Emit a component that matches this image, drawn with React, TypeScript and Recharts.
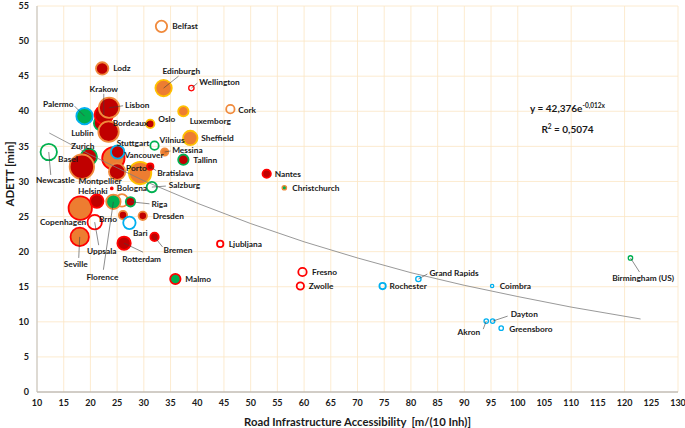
import React from 'react';
import { ScatterChart, Scatter, XAxis, YAxis, ZAxis, CartesianGrid } from 'recharts';

// cities in drawing order (later ones sit on top)
const cities = [
  'Belfast', 'Lodz', 'Edinburgh', 'Wellington', 'Cork', 'Luxemborg', 'Palermo', 'Bordeaux',
  'Krakow', 'Lisbon', 'Lublin', 'Oslo', 'Sheffield', 'Vilnius', 'Vancouver', 'Stuttgart',
  'Messina', 'Tallinn', 'Newcastle', 'Zurich', 'Basel', 'Montpellier', 'Porto', 'Bratislava',
  'Salzburg', 'Bologna', 'Copenhagen', 'Helsinki', 'Brno', 'Florence', 'Riga', '',
  'Dresden', 'Uppsala', 'Bari', 'Seville', 'Rotterdam', 'Bremen', 'Malmo', 'Ljubljana',
  'Nantes', 'Christchurch', 'Fresno', 'Zwolle', 'Rochester', 'Grand Rapids', 'Coimbra',
  'Akron', 'Dayton', 'Greensboro', 'Birmingham (US)',
];
// Road Infrastructure Accessibility [m/(10 Inh)]
const roadAccess = [
  33.3, 22.2, 33.7, 38.9, 46.2, 37.4, 18.9, 22.0,
  22.5, 23.5, 23.4, 31.2, 38.7, 32.0, 24.3, 25.1,
  33.9, 37.4, 12.2, 19.7, 18.4, 25.0, 29.3, 31.2,
  31.5, 24.0, 18.1, 21.2, 25.9, 24.3, 27.5, 26.1,
  29.8, 20.8, 27.3, 18.0, 26.3, 32.0, 35.9, 44.3,
  53.0, 56.3, 59.7, 59.3, 74.7, 81.4, 95.2,
  94.1, 95.3, 96.9, 121.1,
];
// ADETT [min]
const adett = [
  52.1, 46.1, 43.3, 43.3, 40.3, 40.0, 39.3, 38.3,
  39.5, 40.5, 37.1, 38.2, 36.2, 35.1, 33.3, 34.2,
  34.2, 33.1, 34.2, 33.5, 32.1, 31.4, 31.2, 32.1,
  29.2, 29.0, 26.2, 27.2, 27.3, 27.1, 27.1, 25.2,
  25.1, 24.2, 24.1, 22.1, 21.2, 22.1, 16.1, 21.1,
  31.1, 29.1, 17.1, 15.1, 15.1, 16.1, 15.1,
  10.1, 10.1, 9.1, 19.1,
];
// bubble size
const bubbleSize = [
  42, 49, 81, 12, 25, 36, 81, 64,
  100, 121, 121, 25, 64, 25, 144, 56,
  20, 36, 81, 81, 169, 81, 144, 16,
  36, 2, 156, 56, 49, 64, 30, 25,
  25, 64, 49, 100, 56, 25, 36, 16,
  25, 9, 25, 20, 16, 12, 6,
  9, 9, 9, 9,
];
// inner class / outer class
const fillGroup = [
  'none', 'red', 'orange', 'none', 'none', 'orange', 'green', 'red',
  'red', 'red', 'red', 'red', 'orange', 'none', 'orange', 'red',
  'orange', 'red', 'none', 'red', 'red', 'red', 'orange', 'red',
  'none', 'red', 'orange', 'red', 'none', 'green', 'red', 'red',
  'red', 'none', 'none', 'orange', 'red', 'red', 'green', 'none',
  'red', 'green', 'none', 'none', 'none', 'none', 'none',
  'none', 'none', 'none', 'none',
];
const ringGroup = [
  'orange', 'orange', 'gold', 'red', 'orange', 'gold', 'blue', 'green',
  'red', 'orange', 'orange', 'gold', 'gold', 'green', 'red', 'blue',
  'orange', 'green', 'green', 'green', 'orange', 'orange', 'gold', 'red',
  'green', 'red', 'red', 'red', 'orange', 'orange', 'green', 'orange',
  'orange', 'red', 'blue', 'red', 'red', 'red', 'red', 'red',
  'red', 'orange', 'red', 'red', 'blue', 'blue', 'blue',
  'blue', 'blue', 'blue', 'green',
];

// exponential trend line
const trendX = [12.3, 20, 30, 40, 50, 60, 70, 80, 90, 100, 110, 123];
const trendY = [36.9, 33.8, 30.1, 26.9, 24.0, 21.4, 19.1, 17.0, 15.2, 13.6, 12.1, 10.4];

const xTicks = [10, 15, 20, 25, 30, 35, 40, 45, 50, 55, 60, 65, 70, 75, 80, 85, 90, 95, 100, 105, 110, 115, 120, 125, 130];
const yTicks = [0, 5, 10, 15, 20, 25, 30, 35, 40, 45, 50, 55];

const FILL: Record<string, string> = { red: '#C00000', orange: '#ED7D31', green: '#00B050', none: 'none' };
const RING: Record<string, string> = { red: '#FF0000', orange: '#F08A3C', gold: '#FFC000', green: '#00B050', blue: '#00B0F0' };

// label placement: [dx, dy, anchor, leaderX, leaderY]
const labelPos: Record<string, [number, number, string, number?, number?]> = {
  Belfast: [10.7, 0, 'start'],
  Lodz: [11, 0, 'start'],
  Edinburgh: [17.7, -17.6, 'middle', 15, -12],
  Wellington: [8, -6, 'start', 6, -5],
  Cork: [8, 0.7, 'start'],
  Luxemborg: [6.3, 10, 'start'],
  Palermo: [-11, -12, 'end', -10, -10],
  Bordeaux: [11.6, 0, 'start'],
  Krakow: [0, -26, 'middle', 0, -21],
  Lisbon: [16, -3, 'start', 14, -2],
  Lublin: [-15, 1, 'end'],
  Oslo: [8, -4.5, 'start'],
  Sheffield: [11, 0, 'start'],
  Vilnius: [5, -6, 'start'],
  Vancouver: [11, -3, 'start'],
  Stuttgart: [-1, -9, 'start'],
  Messina: [7.5, -2, 'start', 6, -1],
  Tallinn: [10, 0, 'start'],
  Newcastle: [6.6, 28, 'middle', 2, 23],
  Zurich: [-6, -11, 'middle'],
  Basel: [-4, -8, 'end'],
  Montpellier: [-17, 9, 'middle'],
  Porto: [-14, -5, 'start'],
  Bratislava: [7, 6, 'start', 6, 4],
  Salzburg: [17, -2, 'start', 14, -1],
  Bologna: [5, 0, 'start'],
  Copenhagen: [6, 13.6, 'end'],
  Helsinki: [-4, -10, 'middle'],
  Brno: [-5, 19, 'end'],
  Florence: [-11, 75, 'middle', -10, 68],
  Riga: [21, 2.5, 'start', 19, 2],
  Dresden: [10, 0, 'start'],
  Uppsala: [7, 28.6, 'middle', 4, 23],
  Bari: [3.5, 10, 'start'],
  Seville: [-4, 27, 'middle', -1, 21],
  Rotterdam: [17.6, 16, 'middle', 19, 9],
  Bremen: [9, 13, 'start', 8, 10],
  Malmo: [10, 0, 'start'],
  Ljubljana: [8.6, 0, 'start'],
  Nantes: [8, 0, 'start'],
  Christchurch: [8, 0, 'start'],
  Fresno: [9.6, 0.5, 'start'],
  Zwolle: [8.3, 0, 'start'],
  Rochester: [7, 0, 'start'],
  'Grand Rapids': [11, -6, 'start', 9, -5],
  Coimbra: [7.6, 0, 'start'],
  Akron: [-6, 10.6, 'end', -3, 8],
  Dayton: [18, -7, 'start', 15, -5],
  Greensboro: [8, 0.6, 'start'],
  'Birmingham (US)': [12.6, 20, 'middle', 9, 14],
};

const points = cities.map((name, i) => ({
  name,
  x: roadAccess[i],
  y: adett[i],
  z: bubbleSize[i],
  fill: fillGroup[i],
  ring: ringGroup[i],
}));
const trend = trendX.map((x, i) => ({ x, y: trendY[i] }));

const FONT = 'Lato, "Open Sans", sans-serif';

const Bubble = (props: any) => {
  const { cx, cy, payload } = props;
  const r = props.width ? props.width / 2 : Math.sqrt(props.size / Math.PI);
  return (
    <circle
      cx={cx}
      cy={cy}
      r={Math.max(r - 0.8, 1.2)}
      fill={FILL[payload.fill]}
      stroke={RING[payload.ring]}
      strokeWidth={r < 4 ? 1.3 : 1.8}
    />
  );
};

const CityLabel = (props: any) => {
  const { cx, cy, payload } = props;
  const pos = labelPos[payload.name];
  if (!pos) return <g />;
  const [dx, dy, anchor, lx, ly] = pos;
  return (
    <g>
      {lx !== undefined && (
        <line x1={cx} y1={cy} x2={cx + lx} y2={cy + (ly ?? 0)} stroke="#404040" strokeWidth={0.6} />
      )}
      <text
        x={cx + dx}
        y={cy + dy}
        textAnchor={anchor as any}
        dominantBaseline="central"
        fontFamily={FONT}
        fontWeight={700}
        fontSize={8.3}
        fill="#1a1a1a"
      >
        {payload.name}
      </text>
    </g>
  );
};

const YTitle = () => (
  <text
    x={9}
    y={174}
    transform="rotate(-90, 9, 174)"
    textAnchor="middle"
    dominantBaseline="central"
    fontFamily={FONT}
    fontWeight={700}
    fontSize={11.5}
    fill="#1a1a1a"
  >
    ADETT [min]
  </text>
);

const tickStyle = { fontFamily: FONT, fontWeight: 700, fontSize: 9, fill: '#1a1a1a' };

export default function App() {
  return (
    <div style={{ position: 'absolute', left: 0, top: 0, width: 685, height: 428, background: '#fff' }}>
      <ScatterChart width={685} height={428} margin={{ top: 6, right: 7, bottom: 0, left: 0 }}>
        <CartesianGrid stroke="#FBE6C4" strokeWidth={0.8} />
        <XAxis
          type="number"
          dataKey="x"
          domain={[10, 130]}
          ticks={xTicks}
          height={36}
          tickLine={false}
          axisLine={{ stroke: '#A6A6A6', strokeWidth: 1.2 }}
          tick={tickStyle}
          label={{
            value: 'Road Infrastructure Accessibility\u00A0\u00A0[m/(10 Inh)]',
            position: 'insideBottom',
            offset: 2,
            style: { fontFamily: FONT, fontWeight: 700, fontSize: 11.3, fill: '#1a1a1a' },
          }}
        />
        <YAxis
          type="number"
          dataKey="y"
          domain={[0, 55]}
          ticks={yTicks}
          width={37}
          tickLine={false}
          axisLine={{ stroke: '#BFBFBF', strokeWidth: 1 }}
          tick={tickStyle}
          label={{ content: YTitle }}
        />
        <ZAxis type="number" dataKey="z" domain={[0, 200]} range={[0, 200 * Math.PI]} />
        <Scatter data={points} shape={Bubble} isAnimationActive={false} />
        <Scatter
          data={trend}
          line={{ stroke: '#7F7F7F', strokeWidth: 0.8 }}
          lineType="joint"
          shape={() => <g />}
          isAnimationActive={false}
        />
        <Scatter data={points} shape={CityLabel} isAnimationActive={false} />
      </ScatterChart>
      <div
        style={{
          position: 'absolute',
          left: 500,
          top: 97,
          width: 135,
          textAlign: 'center',
          fontFamily: FONT,
          fontWeight: 700,
          fontSize: 10,
          lineHeight: '17.6px',
          color: '#1a1a1a',
        }}
      >
        <div>
          y = 42,376e<sup style={{ fontSize: 6.5, verticalAlign: 4 }}>-0,012x</sup>
        </div>
        <div>
          R<sup style={{ fontSize: 6.5, verticalAlign: 4 }}>2</sup> = 0,5074
        </div>
      </div>
    </div>
  );
}
